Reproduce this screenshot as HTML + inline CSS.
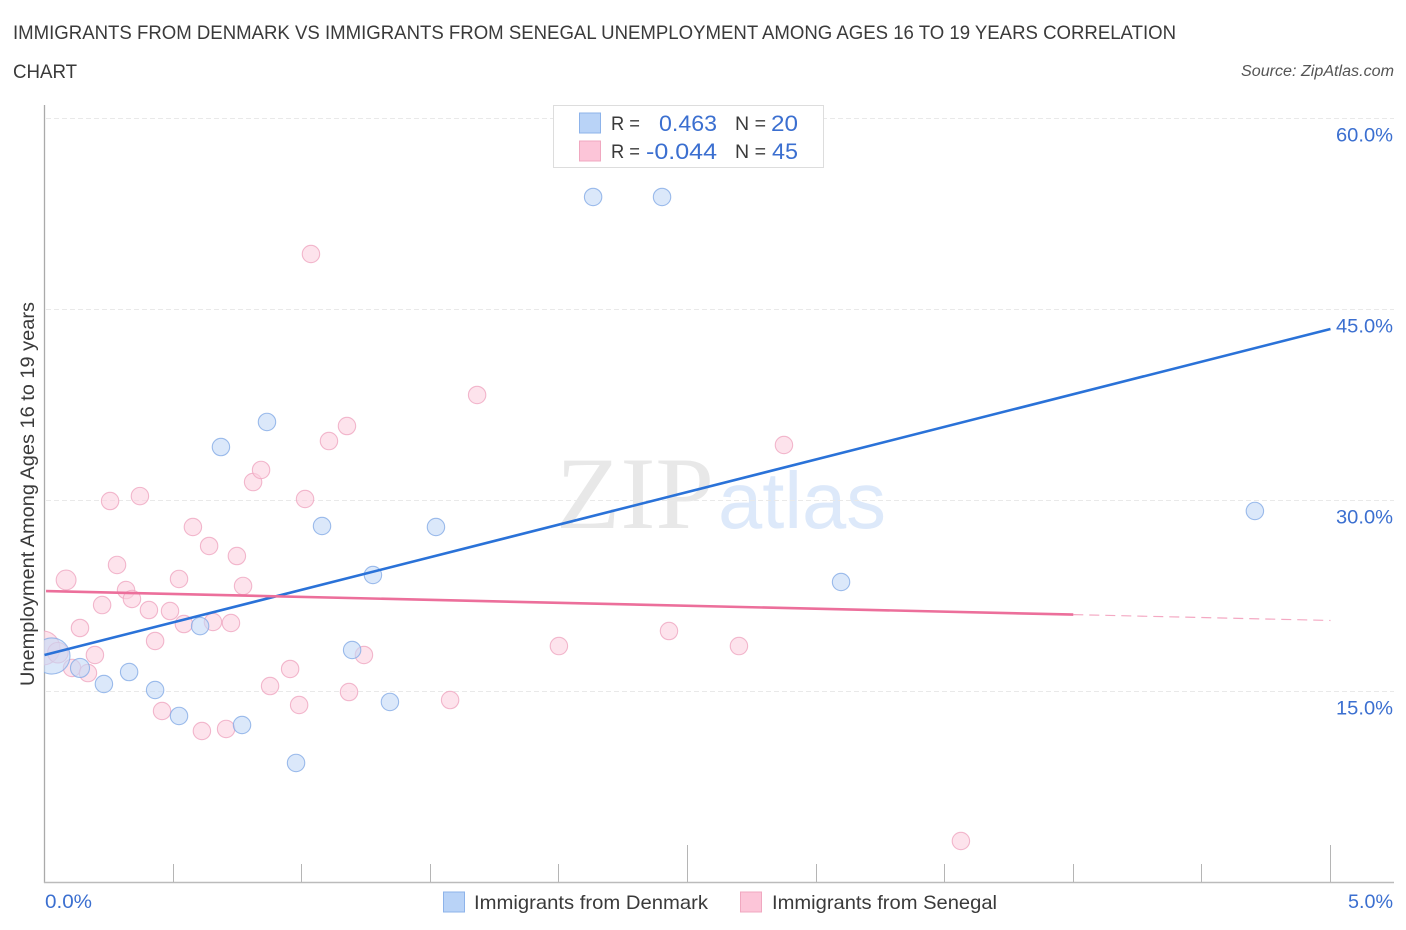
<!DOCTYPE html>
<html lang="en">
<head>
<meta charset="utf-8">
<title>Immigrants from Denmark vs Immigrants from Senegal Unemployment Correlation Chart</title>
<style>
html,body{margin:0;padding:0;background:#fff;width:1406px;height:930px;overflow:hidden}
svg{display:block}
text{font-family:"Liberation Sans",sans-serif}
</style>
</head>
<body>
<svg id="chart" xmlns="http://www.w3.org/2000/svg" width="1406" height="930" viewBox="0 0 1406 930">
  <defs>
    <clipPath id="plot-clip"><rect x="44" y="100" width="1350" height="783"/></clipPath>
  </defs>
  <rect x="0" y="0" width="1406" height="930" fill="#fff"/>
  <text x="13" y="39" font-size="19.5" fill="#3a3a3a" textLength="1163" lengthAdjust="spacingAndGlyphs">IMMIGRANTS FROM DENMARK VS IMMIGRANTS FROM SENEGAL UNEMPLOYMENT AMONG AGES 16 TO 19 YEARS CORRELATION</text>
  <text x="13" y="78" font-size="19.5" fill="#3a3a3a" textLength="64" lengthAdjust="spacingAndGlyphs">CHART</text>
  <text x="1241" y="76" font-size="15.5" font-style="italic" fill="#555" textLength="153" lengthAdjust="spacingAndGlyphs">Source: ZipAtlas.com</text>

  <g>
    <text x="556" y="528" style="font-family:'Liberation Serif',serif" font-size="103" fill="#e8e8e8" textLength="158" lengthAdjust="spacingAndGlyphs">ZIP</text>
    <text x="718" y="528" style="font-family:'Liberation Sans',sans-serif" font-size="80" fill="#dde9fa" textLength="168" lengthAdjust="spacingAndGlyphs">atlas</text>
  </g>

  <g id="grid"></g>
  <g id="axes"></g>
  <g id="points-senegal" clip-path="url(#plot-clip)"></g>
  <g id="points-denmark" clip-path="url(#plot-clip)"></g>
  <g id="trends"></g>

  <text transform="translate(34 494) rotate(-90)" font-size="19" fill="#3a3a3a" text-anchor="middle" textLength="384" lengthAdjust="spacingAndGlyphs">Unemployment Among Ages 16 to 19 years</text>

  <g id="stats-legend">
    <rect x="553.5" y="105.5" width="270" height="62" fill="#fff" stroke="#ddd"/>
    <rect x="579.5" y="113" width="21" height="20" fill="#b9d3f7" stroke="#8db3ea"/>
    <rect x="579.5" y="141" width="21" height="20" fill="#fcc5d8" stroke="#f0a8c0"/>
    <text x="611" y="130" font-size="19.5" fill="#3a3a3a" textLength="29" lengthAdjust="spacingAndGlyphs">R =</text>
    <text x="659" y="131" font-size="22" fill="#3b6fd0" textLength="58" lengthAdjust="spacingAndGlyphs">0.463</text>
    <text x="735" y="130" font-size="19.5" fill="#3a3a3a" textLength="31" lengthAdjust="spacingAndGlyphs">N =</text>
    <text x="771" y="131" font-size="22" fill="#3b6fd0" textLength="27" lengthAdjust="spacingAndGlyphs">20</text>
    <text x="611" y="158" font-size="19.5" fill="#3a3a3a" textLength="29" lengthAdjust="spacingAndGlyphs">R =</text>
    <text x="646" y="159" font-size="22" fill="#3b6fd0" textLength="71" lengthAdjust="spacingAndGlyphs">-0.044</text>
    <text x="735" y="158" font-size="19.5" fill="#3a3a3a" textLength="31" lengthAdjust="spacingAndGlyphs">N =</text>
    <text x="772" y="159" font-size="22" fill="#3b6fd0" textLength="26" lengthAdjust="spacingAndGlyphs">45</text>
  </g>

  <g id="bottom-legend">
    <rect x="443.5" y="892" width="21" height="20" fill="#b9d3f7" stroke="#8db3ea"/>
    <text x="474" y="909" font-size="19.5" fill="#3a3a3a" textLength="234" lengthAdjust="spacingAndGlyphs">Immigrants from Denmark</text>
    <rect x="740.5" y="892" width="21" height="20" fill="#fcc5d8" stroke="#f0a8c0"/>
    <text x="772" y="909" font-size="19.5" fill="#3a3a3a" textLength="225" lengthAdjust="spacingAndGlyphs">Immigrants from Senegal</text>
  </g>
</svg>

<script>
const denmarkX = [0.029,0.138,0.231,0.329,0.430,0.523,0.605,0.768,0.978,0.686,0.865,1.079,1.196,1.277,1.343,1.522,2.133,2.401,3.097,4.706];
const denmarkY = [17.75,16.81,15.55,16.49,15.08,13.04,20.10,12.33,9.35,34.16,36.13,27.96,18.22,24.11,14.14,27.88,53.80,53.80,23.56,29.14];
const denmarkWeight = [4.3,1.2,1,1,1,1,1,1,1,1,1,1,1,1,1,1,1,1,1,1];

const senegalX = [-0.006,0.052,0.084,0.107,0.138,0.169,0.196,0.224,0.255,0.282,0.317,0.340,0.371,0.406,0.430,0.457,0.488,0.523,0.542,0.577,0.612,0.640,0.655,0.706,0.725,0.748,0.772,0.811,0.842,0.877,0.955,0.990,1.013,1.036,1.106,1.176,1.184,1.242,1.577,1.682,2.000,2.428,2.700,2.875,3.563];
const senegalY = [18.38,18.01,23.72,16.81,19.95,16.41,17.83,21.75,29.92,24.90,22.93,22.23,30.31,21.36,18.93,13.43,21.28,23.80,20.26,27.88,11.86,26.39,20.42,12.02,20.34,25.60,23.25,31.41,32.36,15.39,16.73,13.90,30.08,49.32,34.63,35.81,14.92,17.83,14.29,38.25,18.53,19.71,18.53,34.32,3.22];
const senegalWeight = [3.8,1.4,1.3,1,1,1,1,1,1,1,1,1,1,1,1,1,1,1,1,1,1,1,1,1,1,1,1,1,1,1,1,1,1,1,1,1,1,1,1,1,1,1,1,1,1];

const denmarkTrendX = [0,5];
const denmarkTrendY = [17.83,43.43];
const senegalSolidX = [0.006,4];
const senegalSolidY = [22.85,21.0];
const senegalDashedX = [4,5];
const senegalDashedY = [21.0,20.54];

const yTickValues = [15,30,45,60];
const yTickLabels = ['15.0%','30.0%','45.0%','60.0%'];
const xTickValues = [0.5,1,1.5,2,2.5,3,3.5,4,4.5,5];
const xMajorTicks = [2.5,5];
const xEndValues = [0,5];
const xEndLabels = ['0.0%','5.0%'];

const NS = 'http://www.w3.org/2000/svg';
const xScale = v => 44.5 + v * 257.2;
const yScale = v => 882 - v * 12.733;
const BASE_R = 8.7;

function make(tag, parent, attrs) {
  const el = document.createElementNS(NS, tag);
  for (const k in attrs) el.setAttribute(k, attrs[k]);
  parent.appendChild(el);
  return el;
}

const grid = document.getElementById('grid');
yTickValues.forEach((v, i) => {
  const gy = Math.floor(yScale(v)) + 0.5;
  const line = make('line', grid, {x1: 46, x2: 1394, y1: gy, y2: gy, stroke: '#e9e9e9', 'stroke-width': 1, 'stroke-dasharray': '5 3'});
  
  
  const label = make('text', grid, {x: 1336, y: yScale(v) + 23.5, 'font-size': 19.5, fill: '#3b6fd0', textLength: 57, lengthAdjust: 'spacingAndGlyphs'});
  label.textContent = yTickLabels[i];
  
  
});

const axes = document.getElementById('axes');
const yAxis = make('line', axes, {x1: 44.5, x2: 44.5, y1: 105, y2: 883, stroke: '#aaa', 'stroke-width': 1.3});


const xAxis = make('line', axes, {x1: 44, x2: 1394, y1: 882.5, y2: 882.5, stroke: '#bbb', 'stroke-width': 1.5});


xTickValues.forEach(v => {
  const top = xMajorTicks.includes(v) ? 845 : 864;
  const tx = Math.floor(xScale(v)) + 0.5;
  const tick = make('line', axes, {x1: tx, x2: tx, y1: top, y2: 882, stroke: '#b5b5b5', 'stroke-width': 1});
  
  
});
xEndValues.forEach((v, i) => {
  const first = i === 0;
  const label = make('text', axes, {x: first ? xScale(v) + 0.5 : 1348, y: 908, 'font-size': 19.5, fill: '#3b6fd0', textLength: first ? 47 : 45, lengthAdjust: 'spacingAndGlyphs'});
  label.textContent = xEndLabels[i];
  
  
});

function drawPoints(groupId, xs, ys, weights, fill, stroke) {
  const g = document.getElementById(groupId);
  xs.forEach((v, i) => {
    const c = make('circle', g, {cx: xScale(v), cy: yScale(ys[i]), r: BASE_R * Math.sqrt(weights[i]), fill: fill, 'fill-opacity': 0.6, stroke: stroke, 'stroke-width': 1.1, 'stroke-opacity': 0.8});
    
    
  });
}
drawPoints('points-senegal', senegalX, senegalY, senegalWeight, '#fbd0df', '#efa6c0');
drawPoints('points-denmark', denmarkX, denmarkY, denmarkWeight, '#c3d9f6', '#85abe6');

const trends = document.getElementById('trends');
const denmarkLine = make('line', trends, {x1: xScale(denmarkTrendX[0]), y1: yScale(denmarkTrendY[0]), x2: xScale(denmarkTrendX[1]), y2: yScale(denmarkTrendY[1]), stroke: '#2a72d8', 'stroke-width': 2.6});


const senegalLine = make('line', trends, {x1: xScale(senegalSolidX[0]), y1: yScale(senegalSolidY[0]), x2: xScale(senegalSolidX[1]), y2: yScale(senegalSolidY[1]), stroke: '#ec6f9b', 'stroke-width': 2.6});


const senegalDash = make('line', trends, {x1: xScale(senegalDashedX[0]), y1: yScale(senegalDashedY[0]), x2: xScale(senegalDashedX[1]), y2: yScale(senegalDashedY[1]), stroke: '#ec6f9b', 'stroke-width': 1.2, 'stroke-opacity': 0.6, 'stroke-dasharray': '10 6'});


</script>
</body>
</html>
